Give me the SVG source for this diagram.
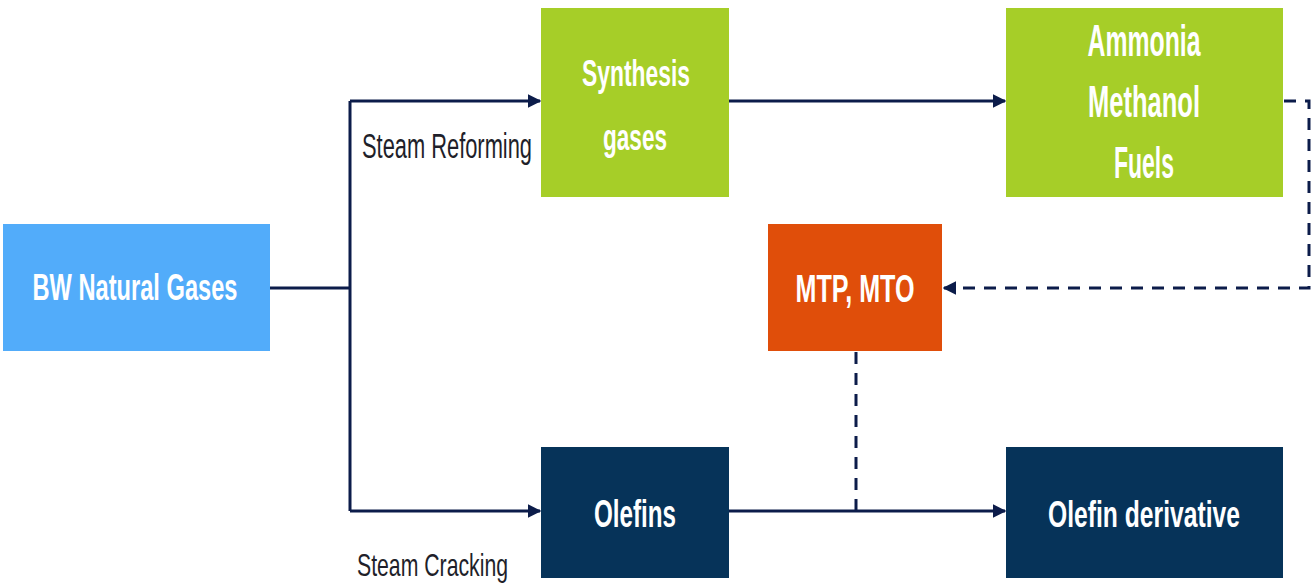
<svg xmlns="http://www.w3.org/2000/svg" width="1314" height="584" viewBox="0 0 1314 584">
<defs>
<style>
.lbl{font-family:"Liberation Sans",Arial,sans-serif;font-weight:bold;fill:#ffffff;text-anchor:middle}
.cap{font-family:"Liberation Sans",Arial,sans-serif;fill:#1f1f2a}
.ln{fill:none;stroke:#0c1c4a;stroke-width:3}
.dash{fill:none;stroke:#0c1c4a;stroke-width:3;stroke-dasharray:12 9}
</style>
<marker id="ah" viewBox="0 0 10 10" refX="9" refY="5" markerWidth="4.5" markerHeight="4.5" orient="auto" markerUnits="strokeWidth">
<path d="M0,0 L10,5 L0,10 Z" fill="#0c1c4a"/>
</marker>
</defs>
<rect width="1314" height="584" fill="#ffffff"/>
<g id="connectors">
<path class="ln" d="M270,288 H350" stroke-width="4"/>
<path class="ln" d="M350,101 V511"/>
<path class="ln" d="M350,101 H540" marker-end="url(#ah)"/>
<path class="ln" d="M350,511 H540" marker-end="url(#ah)"/>
<path class="ln" d="M729,101 H1005" marker-end="url(#ah)"/>
<path class="ln" d="M729,511 H1005" marker-end="url(#ah)"/>
<path class="dash" d="M1284,101 H1309 V288 H944" marker-end="url(#ah)"/>
<path class="dash" d="M856,352 V511"/>
</g>
<g id="node-bw">
<rect x="3" y="224" width="267" height="127" fill="#52acfa"/>
<text class="lbl" x="135" y="300" font-size="37" textLength="205" lengthAdjust="spacingAndGlyphs">BW Natural Gases</text>
</g>
<g id="node-synthesis">
<rect x="541" y="8" width="188" height="189" fill="#a6ce28"/>
<text class="lbl" x="636" y="86" font-size="36" textLength="108" lengthAdjust="spacingAndGlyphs">Synthesis</text>
<text class="lbl" x="635" y="150" font-size="36" textLength="64" lengthAdjust="spacingAndGlyphs">gases</text>
</g>
<g id="node-ammonia">
<rect x="1006" y="8" width="277" height="189" fill="#a6ce28"/>
<text class="lbl" x="1144" y="56" font-size="44" textLength="113" lengthAdjust="spacingAndGlyphs">Ammonia</text>
<text class="lbl" x="1144" y="117" font-size="44" textLength="112" lengthAdjust="spacingAndGlyphs">Methanol</text>
<text class="lbl" x="1144" y="178" font-size="44" textLength="60" lengthAdjust="spacingAndGlyphs">Fuels</text>
</g>
<g id="node-mtp">
<rect x="768" y="224" width="174" height="127" fill="#e04e0a"/>
<text class="lbl" x="855" y="302" font-size="39" textLength="119" lengthAdjust="spacingAndGlyphs">MTP, MTO</text>
</g>
<g id="node-olefins">
<rect x="541" y="447" width="188" height="131" fill="#063359"/>
<text class="lbl" x="635" y="527" font-size="38" textLength="82" lengthAdjust="spacingAndGlyphs">Olefins</text>
</g>
<g id="node-derivative">
<rect x="1006" y="447" width="277" height="131" fill="#063359"/>
<text class="lbl" transform="translate(1144,527) scale(1,1.3)" x="0" y="0" font-size="29" textLength="192" lengthAdjust="spacingAndGlyphs">Olefin derivative</text>
</g>
<g id="labels">
<text class="cap" transform="translate(362,158) scale(1,1.5)" x="0" y="0" font-size="23" textLength="170" lengthAdjust="spacingAndGlyphs">Steam Reforming</text>
<text class="cap" transform="translate(357,576) scale(1,1.5)" x="0" y="0" font-size="21.5" textLength="151" lengthAdjust="spacingAndGlyphs">Steam Cracking</text>
</g>
</svg>
